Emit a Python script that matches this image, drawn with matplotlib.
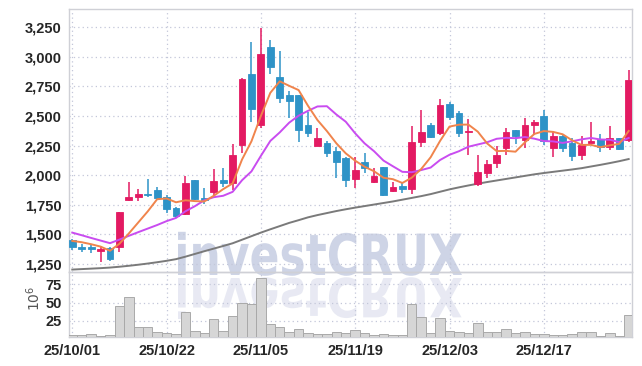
import numpy as np
import matplotlib
matplotlib.use("Agg")
import matplotlib.pyplot as plt
from matplotlib.textpath import TextPath
from matplotlib.patches import PathPatch
from matplotlib.font_manager import FontProperties
from matplotlib.transforms import Affine2D

# trading days shown on the chart
dates = ["25/10/01", "25/10/02", "25/10/10", "25/10/13", "25/10/14", "25/10/15", "25/10/16",
         "25/10/17", "25/10/20", "25/10/21", "25/10/22", "25/10/23", "25/10/24", "25/10/27",
         "25/10/28", "25/10/29", "25/10/30", "25/10/31", "25/11/03", "25/11/04", "25/11/05",
         "25/11/06", "25/11/07", "25/11/10", "25/11/11", "25/11/12", "25/11/13", "25/11/14",
         "25/11/17", "25/11/18", "25/11/19", "25/11/20", "25/11/21", "25/11/24", "25/11/25",
         "25/11/26", "25/11/27", "25/11/28", "25/12/01", "25/12/02", "25/12/03", "25/12/04",
         "25/12/05", "25/12/08", "25/12/09", "25/12/10", "25/12/11", "25/12/12", "25/12/15",
         "25/12/16", "25/12/17", "25/12/18", "25/12/19", "25/12/22", "25/12/23", "25/12/24",
         "25/12/26", "25/12/29", "25/12/30", "26/01/02"]
tick_dates = ["25/10/01", "25/10/22", "25/11/05", "25/11/19", "25/12/03", "25/12/17"]

opens = [1450, 1390, 1390, 1362, 1382, 1390, 1788, 1815, 1845, 1875,
         1815, 1725, 1670, 1960, 1810, 1862, 1958, 1932, 2256, 2853,
         2420, 3080, 2830, 2678, 2675, 2425, 2250, 2270, 2205, 2144,
         1966, 2115, 1946, 2068, 1870, 1910, 1882, 2279, 2425, 2360,
         2598, 2528, 2362, 1927, 2022, 2106, 2228, 2377, 2298, 2422,
         2500, 2228, 2332, 2275, 2166, 2275, 2304, 2236, 2312, 2298]
highs = [1460, 1415, 1420, 1400, 1392, 1690, 1943, 1882, 1969, 1900,
         1834, 1735, 1997, 1962, 1890, 2050, 2060, 2262, 2820, 3128,
         3242, 3143, 3050, 2712, 2680, 2537, 2397, 2285, 2240, 2157,
         2157, 2190, 2060, 2070, 1945, 1945, 2416, 2546, 2440, 2642,
         2620, 2540, 2473, 2171, 2129, 2247, 2397, 2382, 2481, 2465,
         2546, 2374, 2335, 2312, 2332, 2450, 2349, 2416, 2315, 2889]
lows = [1365, 1355, 1345, 1265, 1278, 1352, 1780, 1780, 1814, 1800,
        1679, 1640, 1665, 1790, 1755, 1820, 1904, 1876, 2185, 2448,
        2397, 2853, 2608, 2481, 2279, 2318, 2245, 2150, 1975, 1904,
        1890, 2017, 1932, 1825, 1862, 1852, 1842, 2241, 2310, 2340,
        2465, 2321, 2171, 1910, 1975, 2059, 2171, 2264, 2228, 2340,
        2256, 2152, 2197, 2123, 2129, 2270, 2199, 2214, 2214, 2284]
closes = [1390, 1378, 1378, 1372, 1290, 1685, 1815, 1845, 1833, 1808,
          1715, 1652, 1932, 1800, 1790, 1954, 1935, 2170, 2813, 2560,
          3022, 2910, 2655, 2622, 2383, 2355, 2312, 2186, 2110, 1955,
          2045, 2060, 1994, 1834, 1899, 1885, 2281, 2363, 2326, 2591,
          2490, 2360, 2368, 2025, 2093, 2171, 2366, 2333, 2422, 2450,
          2290, 2332, 2233, 2165, 2256, 2292, 2236, 2312, 2222, 2805]
# volume in millions of shares
volume = [4.9, 4.9, 6.7, 4.0, 5.4, 45.2, 57.1, 15.9, 15.9, 9.1,
          7.7, 6.3, 36.5, 10.4, 7.7, 26.9, 11.3, 31.5, 48.9, 47.5,
          83.2, 20.5, 15.9, 9.1, 13.2, 7.7, 6.3, 6.3, 9.1, 7.7,
          11.8, 7.7, 4.9, 6.7, 4.9, 4.9, 47.9, 30.5, 7.7, 28.3,
          10.4, 9.1, 7.7, 21.4, 9.1, 9.1, 13.2, 7.7, 9.1, 6.3,
          6.3, 4.9, 4.9, 6.3, 9.1, 9.1, 4.0, 7.7, 4.0, 32.8]

# moving averages
ma5 = [1445, 1434, 1417, 1397, 1362, 1421, 1508, 1601, 1694, 1797,
       1803, 1771, 1788, 1781, 1778, 1826, 1882, 1930, 2132, 2286,
       2500, 2695, 2792, 2754, 2718, 2585, 2465, 2372, 2269, 2184,
       2122, 2071, 2033, 1978, 1966, 1934, 1979, 2052, 2151, 2289,
       2410, 2426, 2427, 2367, 2267, 2203, 2205, 2198, 2277, 2348,
       2372, 2365, 2345, 2294, 2255, 2256, 2236, 2252, 2264, 2373]
ma10 = [1515, 1493, 1470, 1448, 1426, 1456, 1488, 1519, 1549, 1579,
        1612, 1639, 1695, 1738, 1788, 1814, 1826, 1859, 1957, 2032,
        2163, 2289, 2361, 2443, 2502, 2543, 2580, 2582, 2512, 2451,
        2353, 2268, 2202, 2123, 2075, 2028, 2025, 2043, 2064, 2128,
        2172, 2202, 2240, 2259, 2278, 2307, 2315, 2312, 2322, 2308,
        2288, 2285, 2272, 2286, 2302, 2314, 2301, 2299, 2279, 2314]
ma60 = [1203, 1207, 1211, 1215, 1220, 1227, 1235, 1244, 1254, 1265,
        1277, 1291, 1312, 1335, 1358, 1380, 1402, 1425, 1455, 1485,
        1515, 1543, 1570, 1597, 1620, 1644, 1663, 1680, 1697, 1712,
        1726, 1739, 1752, 1765, 1778, 1793, 1808, 1823, 1840, 1860,
        1880, 1897, 1913, 1928, 1942, 1955, 1968, 1981, 1994, 2007,
        2018, 2028, 2038, 2048, 2059, 2073, 2087, 2102, 2118, 2136]

UP = "#e31a62"
DOWN = "#2e93c7"
GRID = "#c3c7d9"
SPINE = "#cfd0d6"
TXT = "#262626"
label_font = ["Liberation Sans Narrow", "Liberation Sans", "DejaVu Sans"]

x = np.arange(len(dates))
o = np.array(opens, float)
c = np.array(closes, float)
up = c >= o
colors = np.where(up, UP, DOWN)

fig = plt.figure(figsize=(6.42, 3.66), dpi=100)

# watermark, drawn in figure pixel space behind everything
wm = fig.add_axes([0, 0, 1, 1], zorder=0)
wm.set_xlim(0, 642)
wm.set_ylim(0, 366)
wm.axis("off")
tp = TextPath((0, 0), "investCRUX", size=10,
              prop=FontProperties(family="DejaVu Sans", weight="bold"))
ext = tp.get_extents()
sx = 284 / ext.width
sy = 44 / ext.height
wm.add_patch(PathPatch(tp, transform=Affine2D().scale(sx, sy).translate(178 - ext.x0 * sx, 91) + wm.transData,
                       facecolor="#c6cde2", edgecolor="none", alpha=0.85))
wm.add_patch(PathPatch(tp, transform=Affine2D().scale(sx, -sy * 0.95).translate(178 - ext.x0 * sx, 88) + wm.transData,
                       facecolor="#e4e6f1", edgecolor="none", alpha=0.85))

ax = fig.add_axes([0.1067, 0.2560, 0.8777, 0.7186], zorder=1)
axv = fig.add_axes([0.1067, 0.0784, 0.8777, 0.1776], sharex=ax, zorder=1)
for a in (ax, axv):
    a.patch.set_alpha(0)
    for s in a.spines.values():
        s.set_color(SPINE)
        s.set_linewidth(1.0)
    a.grid(True, color=GRID, linestyle=(0, (1, 2.5)), linewidth=0.9)
    a.set_axisbelow(True)
    a.tick_params(length=0, labelsize=10.5, colors=TXT, pad=5)

# candles
ax.vlines(x, lows, highs, colors=colors, linewidth=1.1, zorder=3)
body = np.maximum(np.abs(c - o), 12)
ax.bar(x, body, bottom=np.minimum(o, c), width=0.72, color=colors, edgecolor=colors,
       linewidth=0.6, zorder=4)

ax.plot(x, ma60, color="#7a7a7a", lw=1.4, zorder=2)
ax.plot(x, ma10, color="#c94cf0", lw=1.4, zorder=5)
ax.plot(x, ma5, color="#f0844c", lw=1.4, zorder=6)

ax.set_xlim(-0.4, 59.35)
ax.set_ylim(1180, 3400)
ax.set_yticks([1250, 1500, 1750, 2000, 2250, 2500, 2750, 3000, 3250])
ax.yaxis.set_major_formatter(matplotlib.ticker.FuncFormatter(lambda v, p: f"{v:,.0f}"))
ax.tick_params(labelbottom=False)

axv.bar(x, volume, width=1.0, color="#d6d6d6", edgecolor="#a9a9a9", linewidth=0.7, zorder=3)
axv.set_ylim(2.2, 91.5)
axv.set_yticks([25, 50, 75])
axv.set_xticks([dates.index(d) for d in tick_dates])
axv.set_xticklabels(tick_dates)
axv.text(-0.062, 0.6, r"$10^6$", transform=axv.transAxes, rotation=90, ha="center", va="center",
         fontsize=10, color="#555555")

for lab in ax.get_yticklabels() + axv.get_yticklabels() + axv.get_xticklabels():
    lab.set_family(label_font)
    lab.set_fontweight("bold")

fig.savefig("out.png", dpi=100)
